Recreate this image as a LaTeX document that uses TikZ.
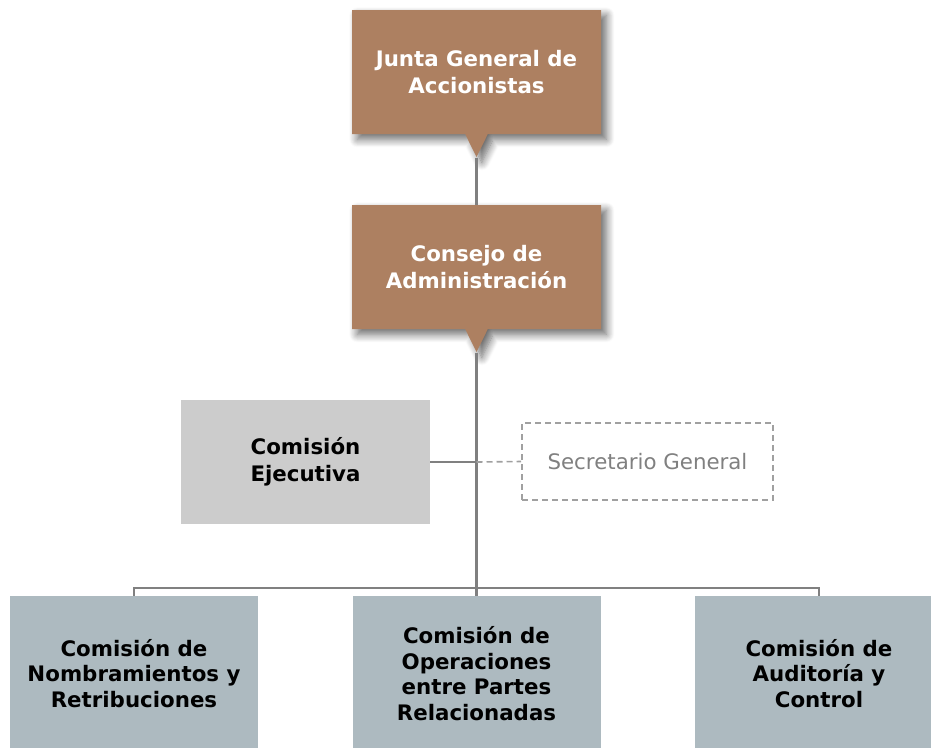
\documentclass[tikz,border=0pt]{standalone}
\usepackage{fontspec}
\setmainfont{DejaVu Sans}
\usetikzlibrary{positioning, shapes.callouts, shadows.blur}

\definecolor{boardbrown}{HTML}{AD8061}
\definecolor{execgray}{HTML}{CCCCCC}
\definecolor{commblue}{HTML}{ADBAC0}
\definecolor{linegray}{HTML}{808080}
\definecolor{dashgray}{HTML}{A0A0A0}

\tikzset{
    mainbox/.style={rectangle callout, fill=boardbrown, text=white,
        minimum width=186.75pt, minimum height=93pt, callout pointer width=17pt,
        blur shadow={shadow xshift=4pt, shadow yshift=-4pt, shadow blur radius=6pt,
            shadow blur steps=10, shadow opacity=60}},
    execbox/.style={rectangle, fill=execgray, minimum width=186.75pt, minimum height=93pt},
    commbox/.style={rectangle, fill=commblue, minimum width=186pt, minimum height=116.25pt,
        font=\fontsize{16}{19.25}\selectfont\bfseries},
    secbox/.style={rectangle, draw=dashgray, dash pattern=on 4.5pt off 3pt, line width=1.2pt,
        text=linegray, minimum width=188.25pt, minimum height=57.75pt,
        font=\fontsize{16}{20}\selectfont},
    conn/.style={draw=linegray, line width=2pt}
}

\begin{document}
\begin{tikzpicture}[
        x=0.75pt, y=-0.75pt,
        every node/.style={font=\fontsize{16}{20.25}\selectfont\bfseries, align=center}
    ]
    \clip (0,0) rectangle (931,747);

    % Board boxes
    \node[mainbox, callout absolute pointer={(476.5,157)}] (junta) at (476.5,72) {Junta General de\\Accionistas};
    \node[mainbox, callout absolute pointer={(476.5,352)}] (consejo) at (476.5,267) {Consejo de\\Administración};

    % Executive and secretary
    \node[execbox] (ejecutiva) at (305.5,462) {Comisión\\Ejecutiva};
    \node[secbox] (secretario) at (647.5,461.5) {Secretario General};

    % Committees (cut by the lower edge)
    \node[commbox] (nombramientos) at (134,673.5) {Comisión de\\Nombramientos y\\Retribuciones};
    \node[commbox] (operaciones) at (476.5,673.5) {Comisión de\\Operaciones\\entre Partes\\Relacionadas};
    \node[commbox] (auditoria) at (819,673.5) {Comisión de\\Auditoría y\\Control};

    % Connectors
    \coordinate (bus) at (476.5,588);
    \coordinate (jct) at (consejo.pointer |- ejecutiva.east);
    \draw[conn] (junta.pointer) -- (consejo.north);
    \draw[conn] (consejo.pointer) -- (bus);
    \draw[conn] (ejecutiva.east) -- (jct);
    \draw[conn, draw=dashgray, dash pattern=on 4.5pt off 3pt, line width=1.2pt] (jct) -- (secretario.west);
    \draw[conn] (nombramientos.north) -- (nombramientos.north |- bus) -- (auditoria.north |- bus) -- (auditoria.north);
    \draw[conn] (bus) -- (operaciones.north);

\end{tikzpicture}
\end{document}
